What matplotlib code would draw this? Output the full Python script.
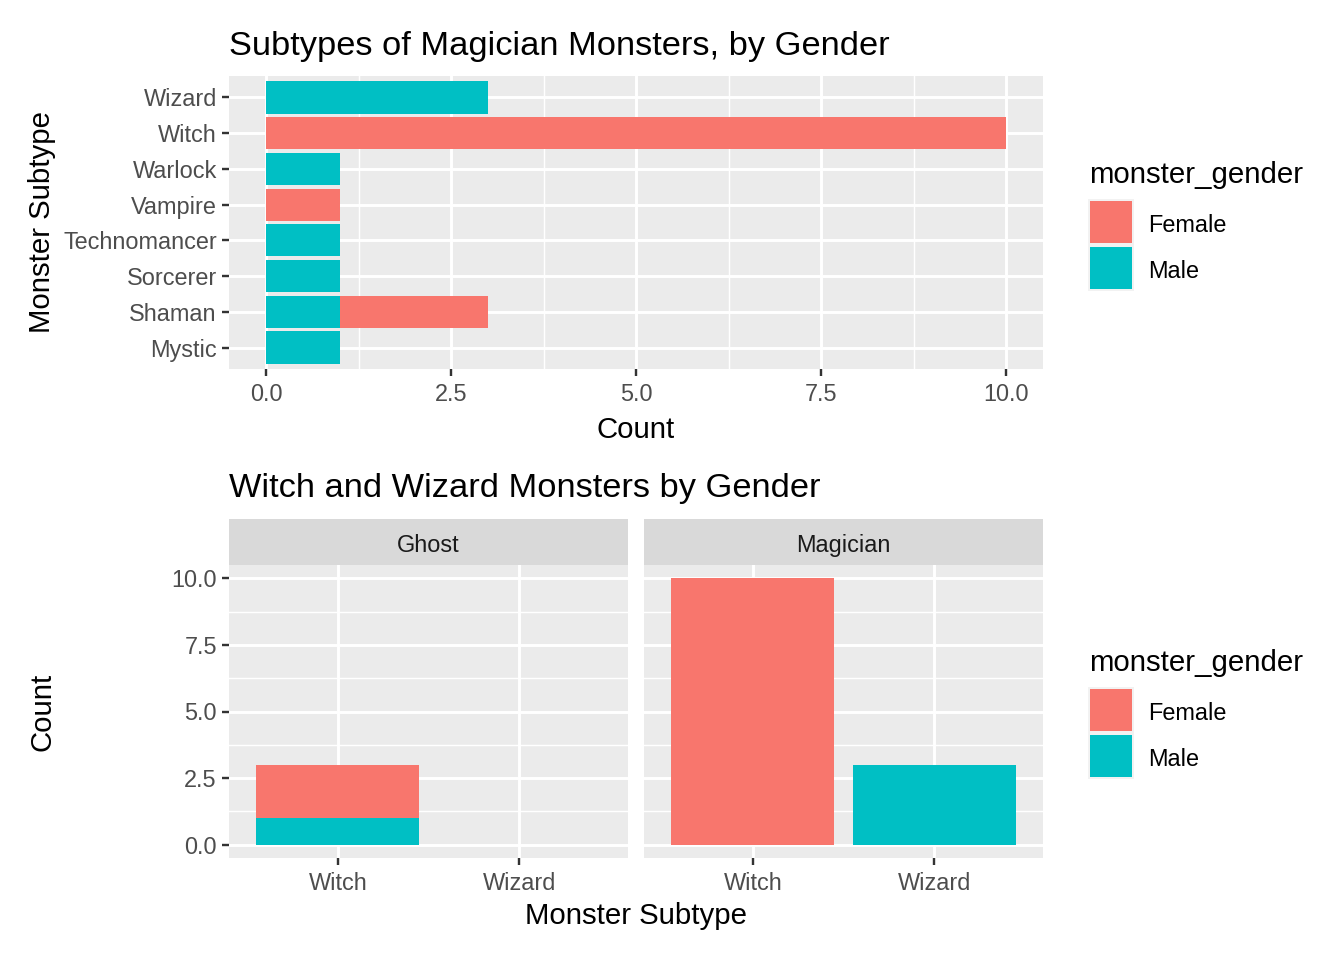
"""Magician monster subtypes by gender, drawn in a ggplot2-like style."""

import matplotlib
matplotlib.use("Agg")
import matplotlib.pyplot as plt
from matplotlib.patches import Rectangle
from matplotlib.ticker import MultipleLocator

plt.rcParams["font.family"] = ["Liberation Sans", "DejaVu Sans"]

FEMALE = "#F8766D"
MALE = "#00BFC4"
PANEL = "#EBEBEB"
TICK_TEXT = "#4D4D4D"

# top chart: subtypes of magician monsters
subtypes = ["Mystic", "Shaman", "Sorcerer", "Technomancer",
            "Vampire", "Warlock", "Witch", "Wizard"]
male_counts = [1, 1, 1, 1, 0, 1, 0, 3]
female_counts = [0, 2, 0, 0, 1, 0, 10, 0]

# bottom chart: witch / wizard by monster type
facets = ["Ghost", "Magician"]
ww_subtypes = ["Witch", "Wizard"]
ww_male = {"Ghost": [1, 0], "Magician": [0, 3]}
ww_female = {"Ghost": [2, 0], "Magician": [10, 0]}


def px_x(x):
    return x / 1344


def px_y(y):
    return 1 - y / 960


def style_axes(ax):
    ax.set_facecolor(PANEL)
    for spine in ax.spines.values():
        spine.set_visible(False)
    ax.tick_params(colors="#333333", labelcolor=TICK_TEXT, labelsize=8.8,
                   length=2.75, width=0.9)
    ax.tick_params(axis="x", pad=2.6)
    ax.tick_params(axis="y", pad=1.8)
    ax.set_axisbelow(True)


def draw_legend(fig, y_title):
    fig.text(px_x(1089), px_y(y_title + 2), "monster_gender", fontsize=11,
             va="center", ha="left")
    for i, (label, color) in enumerate([("Female", FEMALE), ("Male", MALE)]):
        top = y_title + 26 + i * 46
        fig.patches.append(Rectangle((px_x(1088), px_y(top + 46)),
                                     46 / 1344, 46 / 960, facecolor="#F2F2F2",
                                     edgecolor="none",
                                     transform=fig.transFigure))
        fig.patches.append(Rectangle((px_x(1090), px_y(top + 44)),
                                     42 / 1344, 42 / 960, facecolor=color,
                                     edgecolor="none",
                                     transform=fig.transFigure))
        fig.text(px_x(1148), px_y(top + 27), label, fontsize=8.8,
                 va="center", ha="left")


fig = plt.figure(figsize=(7, 5), dpi=192)

# ---- top panel ----
ax1 = fig.add_axes([px_x(229), px_y(369), 814 / 1344, 293 / 960])
style_axes(ax1)
pos = list(range(1, len(subtypes) + 1))
ax1.barh(pos, male_counts, height=0.9, color=MALE, zorder=2)
ax1.barh(pos, female_counts, left=male_counts, height=0.9, color=FEMALE,
         zorder=2)
ax1.set_xlim(-0.5, 10.5)
ax1.set_ylim(0.4, len(subtypes) + 0.6)
ax1.set_yticks(pos)
ax1.set_yticklabels(subtypes)
ax1.xaxis.set_major_locator(MultipleLocator(2.5))
ax1.xaxis.set_minor_locator(MultipleLocator(1.25))
ax1.xaxis.set_major_formatter(plt.FuncFormatter(lambda v, p: f"{v:.1f}"))
ax1.tick_params(axis="x", which="minor", length=0)
ax1.grid(True, which="major", color="white", linewidth=1.1)
ax1.grid(True, which="minor", axis="x", color="white", linewidth=0.55)
ax1.set_xlabel("Count", fontsize=11, labelpad=3.5)
fig.text(px_x(42), px_y(222), "Monster Subtype", fontsize=11, rotation=90,
         ha="center", va="center")
fig.text(px_x(229), px_y(47), "Subtypes of Magician Monsters, by Gender",
         fontsize=12.9, ha="left", va="center")
draw_legend(fig, 173)

# ---- bottom facets ----
lefts = [229, 644]
for i, facet in enumerate(facets):
    ax = fig.add_axes([px_x(lefts[i]), px_y(858), 399 / 1344, 293 / 960])
    style_axes(ax)
    xpos = [1, 2]
    ax.bar(xpos, ww_male[facet], width=0.9, color=MALE, zorder=2)
    ax.bar(xpos, ww_female[facet], bottom=ww_male[facet], width=0.9,
           color=FEMALE, zorder=2)
    ax.set_xlim(0.4, 2.6)
    ax.set_ylim(-0.5, 10.5)
    ax.set_xticks(xpos)
    ax.set_xticklabels(ww_subtypes)
    ax.yaxis.set_major_locator(MultipleLocator(2.5))
    ax.yaxis.set_minor_locator(MultipleLocator(1.25))
    ax.yaxis.set_major_formatter(plt.FuncFormatter(lambda v, p: f"{v:.1f}"))
    ax.tick_params(axis="y", which="minor", length=0)
    ax.grid(True, which="major", color="white", linewidth=1.1)
    ax.grid(True, which="minor", axis="y", color="white", linewidth=0.55)
    if i > 0:
        ax.tick_params(axis="y", left=False, labelleft=False)
    # facet strip
    strip = fig.add_axes([px_x(lefts[i]), px_y(565), 399 / 1344, 46 / 960])
    strip.set_facecolor("#D9D9D9")
    strip.set_xticks([])
    strip.set_yticks([])
    for spine in strip.spines.values():
        spine.set_visible(False)
    strip.text(0.5, 0.42, facet, fontsize=8.8, color="#1A1A1A",
               ha="center", va="center", transform=strip.transAxes)

fig.text(px_x(636), px_y(916), "Monster Subtype", fontsize=11,
         ha="center", va="center")
fig.text(px_x(42), px_y(712), "Count", fontsize=11, rotation=90,
         ha="center", va="center")
fig.text(px_x(229), px_y(488), "Witch and Wizard Monsters by Gender",
         fontsize=12.9, ha="left", va="center")
draw_legend(fig, 661)

fig.savefig("out.png", dpi=192)
